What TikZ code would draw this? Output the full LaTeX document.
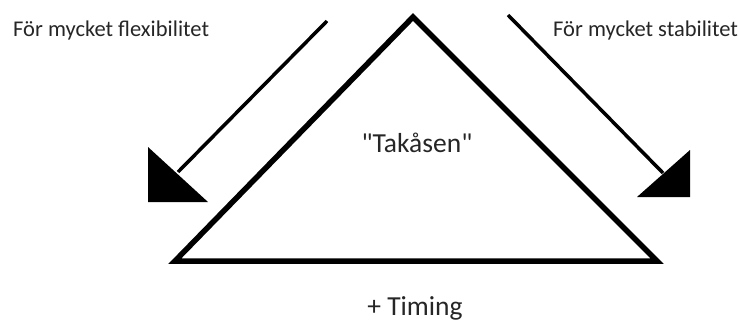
\documentclass[tikz,border=0pt]{standalone}
\usepackage{fontspec}
\setmainfont{Carlito}
\newfontfamily\plaincarlito{Carlito}[Ligatures=TeXOff]
\begin{document}
\begin{tikzpicture}[x=1pt,y=-1pt,
  lbl/.style={inner sep=0pt, text=black!85},
  small/.style={lbl, font=\fontsize{22.5}{26}\selectfont},
  big/.style={lbl, font=\plaincarlito\fontsize{27.5}{32}\selectfont},
  tri/.style={line width=5.5pt, line join=miter},
  arr/.style={line width=3.5pt},
  head/.style={fill=black}]
\useasboundingbox (0,0) rectangle (740,322);
% triangle
\coordinate (apex) at (413,17);
\coordinate (bl) at (175,261);
\coordinate (br) at (657,261);
\draw[tri] (apex) -- (bl) -- (br) -- cycle;
% labels
\node[small, anchor=base west] (flex) at (13,36) {För mycket flexibilitet};
\node[small, anchor=base west] (stab) at (553,36) {För mycket stabilitet};
\node[big, anchor=base] (tak) at (417,152) {"Takåsen"};
\node[big, anchor=base] (timing) at (415,315.5) {+ Timing};
% left arrow
\coordinate (ls) at (327,21);
\coordinate (le) at (178,172);
\coordinate (lh1) at (148,147);
\coordinate (lh2) at (148,202);
\coordinate (lh3) at (208,202);
\draw[arr] (ls) -- (le);
\fill[head] (lh1) -- (lh2) -- (lh3) -- cycle;
% right arrow
\coordinate (rs) at (508,15);
\coordinate (re) at (663,173);
\coordinate (rh1) at (690,150);
\coordinate (rh2) at (690,197);
\coordinate (rh3) at (637,197);
\draw[arr] (rs) -- (re);
\fill[head] (rh1) -- (rh2) -- (rh3) -- cycle;
\end{tikzpicture}
\end{document}
